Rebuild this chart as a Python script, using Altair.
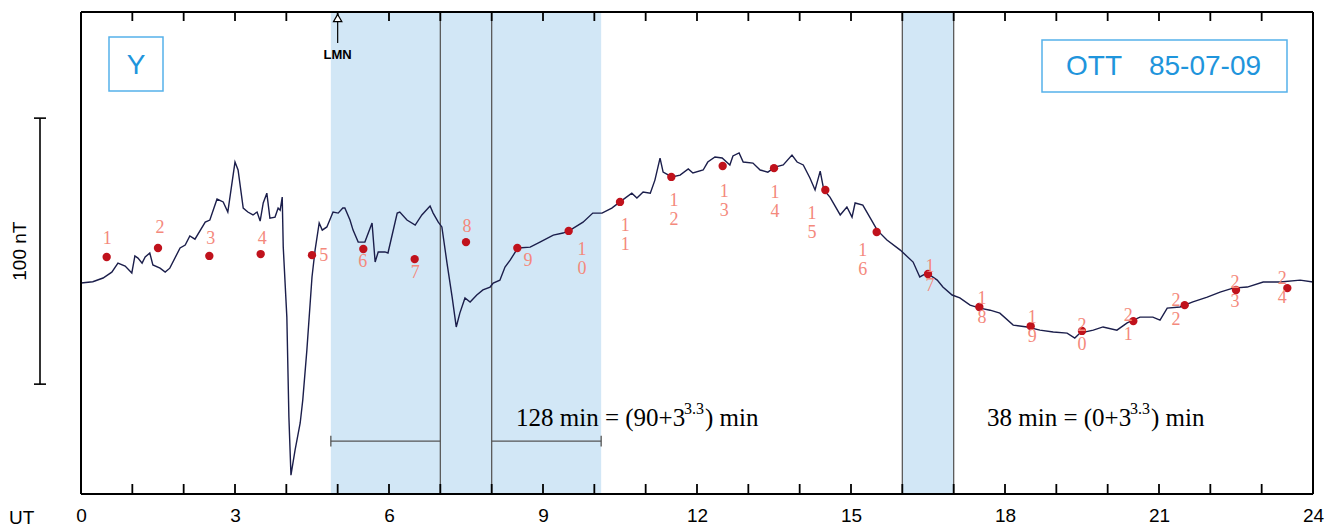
import altair as alt
import pandas as pd

# ---- data (hours UT, nT relative to start of record) ----
curve_hour = [0.00, 0.23, 0.43, 0.60, 0.72, 0.86, 0.99, 1.05, 1.11, 1.19, 1.25, 1.34, 1.40, 1.54, 1.64, 1.73,
              1.93, 2.03, 2.12, 2.22, 2.42, 2.51, 2.65, 2.77, 2.86, 3.00, 3.06, 3.16, 3.25, 3.35, 3.43, 3.49,
              3.55, 3.62, 3.68, 3.78, 3.84, 3.88, 3.92, 3.94, 4.01, 4.05, 4.09, 4.17, 4.27, 4.32, 4.40, 4.50,
              4.56, 4.64, 4.70, 4.79, 4.91, 5.01, 5.10, 5.14, 5.24, 5.30, 5.40, 5.53, 5.67, 5.73, 5.79, 5.92,
              5.98, 6.16, 6.21, 6.35, 6.51, 6.64, 6.80, 6.86, 6.96, 7.03, 7.13, 7.23, 7.31, 7.38, 7.48, 7.58,
              7.71, 7.83, 7.97, 8.03, 8.16, 8.26, 8.36, 8.51, 8.75, 8.94, 9.20, 9.39, 9.53, 9.78, 9.97, 10.15,
              10.34, 10.50, 10.73, 10.83, 10.95, 11.09, 11.18, 11.28, 11.34, 11.51, 11.67, 11.83, 11.92, 12.12,
              12.21, 12.35, 12.49, 12.64, 12.70, 12.82, 12.90, 13.09, 13.23, 13.38, 13.52, 13.68, 13.85, 13.95,
              14.07, 14.20, 14.30, 14.40, 14.47, 14.59, 14.79, 14.92, 15.02, 15.08, 15.23, 15.43, 15.51, 15.70,
              15.96, 16.21, 16.34, 16.48, 16.68, 16.79, 16.97, 17.12, 17.32, 17.51, 17.71, 17.90, 18.16, 18.43,
              18.68, 18.94, 19.21, 19.36, 19.46, 19.72, 19.91, 20.18, 20.38, 20.63, 20.88, 21.02, 21.16, 21.41,
              21.66, 21.94, 22.19, 22.44, 22.72, 23.03, 23.36, 23.75, 24.00]
curve_nT = [0.0, 0.5, 1.9, 4.1, 7.5, 6.4, 3.8, 10.2, 9.4, 7.5, 9.8, 11.3, 6.8, 5.6, 4.1, 5.6,
            13.2, 14.3, 17.7, 16.5, 22.9, 23.7, 31.6, 30.5, 26.7, 45.5, 42.5, 28.2, 26.7, 25.6, 26.7, 23.3,
            30.1, 33.8, 24.4, 24.8, 28.2, 27.4, 32.3, 13.5, -12.8, -50.4, -72.2, -62.8, -52.6, -44.0, -25.2, 2.3,
            12.4, 22.6, 19.9, 21.1, 26.7, 26.3, 28.2, 28.2, 23.7, 19.9, 15.4, 15.4, 22.6, 7.9, 11.7, 11.7,
            11.3, 26.3, 26.7, 23.7, 21.8, 25.6, 29.0, 26.3, 22.9, 21.1, 7.5, -5.3, -16.5, -11.3, -5.6, -7.1,
            -4.5, -2.6, -1.5, 0.0, 1.1, 6.0, 8.6, 13.2, 13.5, 15.4, 18.0, 18.8, 19.9, 22.9, 26.3, 26.3,
            28.2, 30.5, 33.8, 32.0, 34.2, 33.8, 38.7, 47.0, 41.7, 39.9, 40.6, 42.9, 41.4, 42.5,
            45.5, 47.4, 47.0, 44.4, 47.8, 48.9, 45.5, 45.1, 42.5, 41.7, 43.6, 44.4, 48.1, 45.5,
            44.4, 39.5, 35.0, 42.1, 35.0, 32.3, 25.6, 28.6, 24.8, 30.1, 29.3, 22.6, 19.9, 16.2,
            12.4, 7.9, 2.3, 3.8, 1.1, -1.5, -4.5, -5.6, -8.3, -9.4, -10.2, -11.3, -15.8, -16.5,
            -17.7, -18.4, -18.8, -20.7, -18.8, -17.7, -16.5, -17.7, -15.0, -12.8, -12.8, -13.9, -9.4, -9.0,
            -7.1, -5.3, -3.4, -1.9, -1.5, 0.4, 0.4, 1.1, 0.4]

station_hour = [0.5, 1.5, 2.5, 3.5, 4.5, 5.5, 6.5, 7.5, 8.5, 9.5, 10.5, 11.5,
                12.5, 13.5, 14.5, 15.5, 16.5, 17.5, 18.5, 19.5, 20.5, 21.5, 22.5, 23.5]
station_nT = [9.8, 13.2, 10.2, 10.9, 10.5, 12.8, 9.0, 15.4, 13.2, 19.6, 30.5, 39.9,
              44.0, 43.2, 35.0, 19.2, 3.4, -9.0, -16.2, -18.0, -14.3, -8.3, -2.6, -1.9]
label_text = ["1", "2", "3", "4", "5", "6", "7", "8", "9", "1\n0", "1\n1", "1\n2",
              "1\n3", "1\n4", "1\n5", "1\n6", "1\n7", "1\n8", "1\n9", "2\n0", "2\n1", "2\n2", "2\n3", "2\n4"]
label_hour = [0.51, 1.54, 2.53, 3.53, 4.73, 5.49, 6.51, 7.52, 8.71, 9.76, 10.60, 11.55,
              12.53, 13.52, 14.24, 15.23, 16.54, 17.55, 18.53, 19.50, 20.40, 21.33, 22.48, 23.40]
label_nT = [16.5, 20.7, 16.5, 16.5, 10.2, 7.9, 3.8, 21.1, 8.3, 12.4, 21.6, 31.0,
            34.4, 33.7, 25.9, 12.0, 6.0, -6.0, -13.2, -16.2, -12.4, -6.8, 0.2, 1.5]

shade_start = [4.867, 16.0]
shade_end = [10.133, 17.0]
divider_hours = [7.0, 8.0, 16.0, 17.0]
span_start = [4.867, 8.0]
span_end = [7.0, 10.133]
span_caps = [4.867, 10.133]
tick_hours = [1, 2, 3, 4, 5, 6, 7, 8, 9, 10, 11, 12, 13, 14, 15, 16, 17, 18, 19, 20, 21, 22, 23]
axis_labels = [0, 3, 6, 9, 12, 15, 18, 21, 24]
span_level = [-59.4]
cap_half = 2.0
scale_bar_nT = [62.0, -38.0]
scale_label_nT = [12.0]
lmn_hour = [5.0]

W, H = 1232, 482
xs = alt.Scale(domain=[0, 24], nice=False, zero=False)
ys = alt.Scale(domain=[-79.3, 101.9], nice=False, zero=False)
xaxis = alt.Axis(values=axis_labels, title=None, ticks=False, domain=False, grid=False,
                 labelFont="Liberation Sans", labelFontSize=19, labelColor="black",
                 labelPadding=12, labelFlush=False)


def X(f):
    return alt.X(f, type="quantitative", scale=xs, axis=xaxis)


def Y(f):
    return alt.Y(f, type="quantitative", scale=ys, axis=None)


curve = pd.DataFrame({"h": curve_hour, "v": curve_nT})
stations = pd.DataFrame({"h": station_hour, "v": station_nT})
labels = pd.DataFrame({"h": label_hour, "v": label_nT, "t": label_text})
shades = pd.DataFrame({"a": shade_start, "b": shade_end})
dividers = pd.DataFrame({"h": divider_hours})
spans = pd.DataFrame({"a": span_start, "b": span_end, "v": span_level * 2})
caps = pd.DataFrame({"h": span_caps, "v1": [span_level[0] + cap_half] * 2,
                     "v2": [span_level[0] - cap_half] * 2})
ticks = pd.DataFrame({"h": tick_hours})
lmn = pd.DataFrame({"h": lmn_hour})
sbar = pd.DataFrame({"v1": [scale_bar_nT[0]], "v2": [scale_bar_nT[1]]})
sbar_ends = pd.DataFrame({"v": scale_bar_nT})
sbar_lab = pd.DataFrame({"v": scale_label_nT})
ann = pd.DataFrame({"d": [0]})

shade_l = alt.Chart(shades).mark_rect(color="#d2e7f6").encode(
    x=X("a"), x2="b", y=alt.value(0), y2=alt.value(H))
div_l = alt.Chart(dividers).mark_rule(color="#5a5a5a", strokeWidth=1.3).encode(
    x=X("h"), y=alt.value(0), y2=alt.value(H))
tick_b = alt.Chart(ticks).mark_rule(color="black", strokeWidth=1.8).encode(
    x=X("h"), y=alt.value(H), y2=alt.value(H - 10))
tick_t = alt.Chart(ticks).mark_rule(color="black", strokeWidth=1.8).encode(
    x=X("h"), y=alt.value(0), y2=alt.value(9))
span_l = alt.Chart(spans).mark_rule(color="#555555", strokeWidth=1.3).encode(
    x=X("a"), x2="b", y=Y("v"))
cap_l = alt.Chart(caps).mark_rule(color="#555555", strokeWidth=1.3).encode(
    x=X("h"), y=Y("v1"), y2="v2")

line_l = alt.Chart(curve).mark_line(color="#1b1e4b", strokeWidth=1.4).encode(x=X("h"), y=Y("v"))
dot_l = alt.Chart(stations).mark_circle(size=70, color="#c0121c", opacity=1).encode(x=X("h"), y=Y("v"))
lab_l = alt.Chart(labels).mark_text(font="Liberation Serif", fontSize=18, color="#f4897c",
                                    lineBreak="\n", lineHeight=19, baseline="middle",
                                    align="center").encode(x=X("h"), y=Y("v"), text="t")


def txt(s, x, y, **kw):
    return alt.Chart(ann).mark_text(text=s, **kw).encode(x=alt.value(x), y=alt.value(y))


serif = dict(font="Liberation Serif", color="black", align="left", baseline="alphabetic")
eq_parts = [
    txt("128 min = (90+3", 435, 414, fontSize=25, **serif),
    txt("3.3", 603, 402, fontSize=16, **serif),
    txt(") min", 624, 414, fontSize=25, **serif),
    txt("38 min = (0+3", 906, 414, fontSize=25, **serif),
    txt("3.3", 1049, 402, fontSize=16, **serif),
    txt(") min", 1070, 414, fontSize=25, **serif),
]

box_y = alt.Chart(ann).mark_rect(fillOpacity=0, stroke="#56b1ea", strokeWidth=1.5).encode(
    x=alt.value(28), x2=alt.value(82), y=alt.value(25), y2=alt.value(79))
box_o = alt.Chart(ann).mark_rect(fillOpacity=0, stroke="#56b1ea", strokeWidth=1.5).encode(
    x=alt.value(961), x2=alt.value(1206), y=alt.value(28), y2=alt.value(80))
sans_blue = dict(font="Liberation Sans", fontSize=28, color="#1f95dc", align="center", baseline="middle")
t_y = txt("Y", 55, 54, **sans_blue)
t_ott = txt("OTT", 1013, 55, **sans_blue)
t_date = txt("85-07-09", 1124, 55, **sans_blue)

lmn_line = alt.Chart(lmn).mark_rule(color="black", strokeWidth=1.2).encode(
    x=X("h"), y=alt.value(4), y2=alt.value(31))
lmn_head = alt.Chart(lmn).mark_point(shape="triangle-up", filled=True, fill="white", size=70,
                                     stroke="black", strokeWidth=1.2, opacity=1).encode(
    x=X("h"), y=alt.value(6))
lmn_txt = alt.Chart(lmn).mark_text(text="LMN", font="Liberation Sans", fontSize=13, fontWeight="bold",
                                   color="black", baseline="middle").encode(x=X("h"), y=alt.value(43))

# plot frame
frame_v = alt.Chart(ann).mark_rule(color="black", strokeWidth=2).encode(
    x=alt.value(0), y=alt.value(0), y2=alt.value(H))
frame_v2 = alt.Chart(ann).mark_rule(color="black", strokeWidth=2).encode(
    x=alt.value(W), y=alt.value(0), y2=alt.value(H))
frame_h = alt.Chart(ann).mark_rule(color="black", strokeWidth=2).encode(
    y=alt.value(0), x=alt.value(0), x2=alt.value(W))
frame_h2 = alt.Chart(ann).mark_rule(color="black", strokeWidth=2).encode(
    y=alt.value(H), x=alt.value(0), x2=alt.value(W))

sb = alt.Chart(sbar).mark_rule(color="black", strokeWidth=1.6).encode(
    x=alt.value(-41), y=Y("v1"), y2="v2")
sb_ends = alt.Chart(sbar_ends).mark_rule(color="black", strokeWidth=1.6).encode(
    x=alt.value(-47), x2=alt.value(-35), y=Y("v"))
sb_txt = alt.Chart(sbar_lab).mark_text(text="100 nT", font="Liberation Sans", fontSize=19, angle=270,
                                       color="black", baseline="middle").encode(
    x=alt.value(-61), y=Y("v"))
ut_txt = txt("UT", -72, 506, font="Liberation Sans", fontSize=19, color="black",
             align="left", baseline="middle")

chart = alt.layer(
    shade_l, div_l, span_l, cap_l, tick_b, tick_t, line_l, dot_l, lab_l,
    *eq_parts, box_y, box_o, t_y, t_ott, t_date, lmn_line, lmn_head, lmn_txt,
    frame_v, frame_v2, frame_h, frame_h2,
    sb, sb_ends, sb_txt, ut_txt,
).properties(
    width=W, height=H, autosize="none",
    padding={"left": 73, "top": 4, "right": 12, "bottom": 36},
).configure_view(stroke=None).configure(background="white")

chart.save("out.html", embed_options={"renderer": "svg", "actions": False})
